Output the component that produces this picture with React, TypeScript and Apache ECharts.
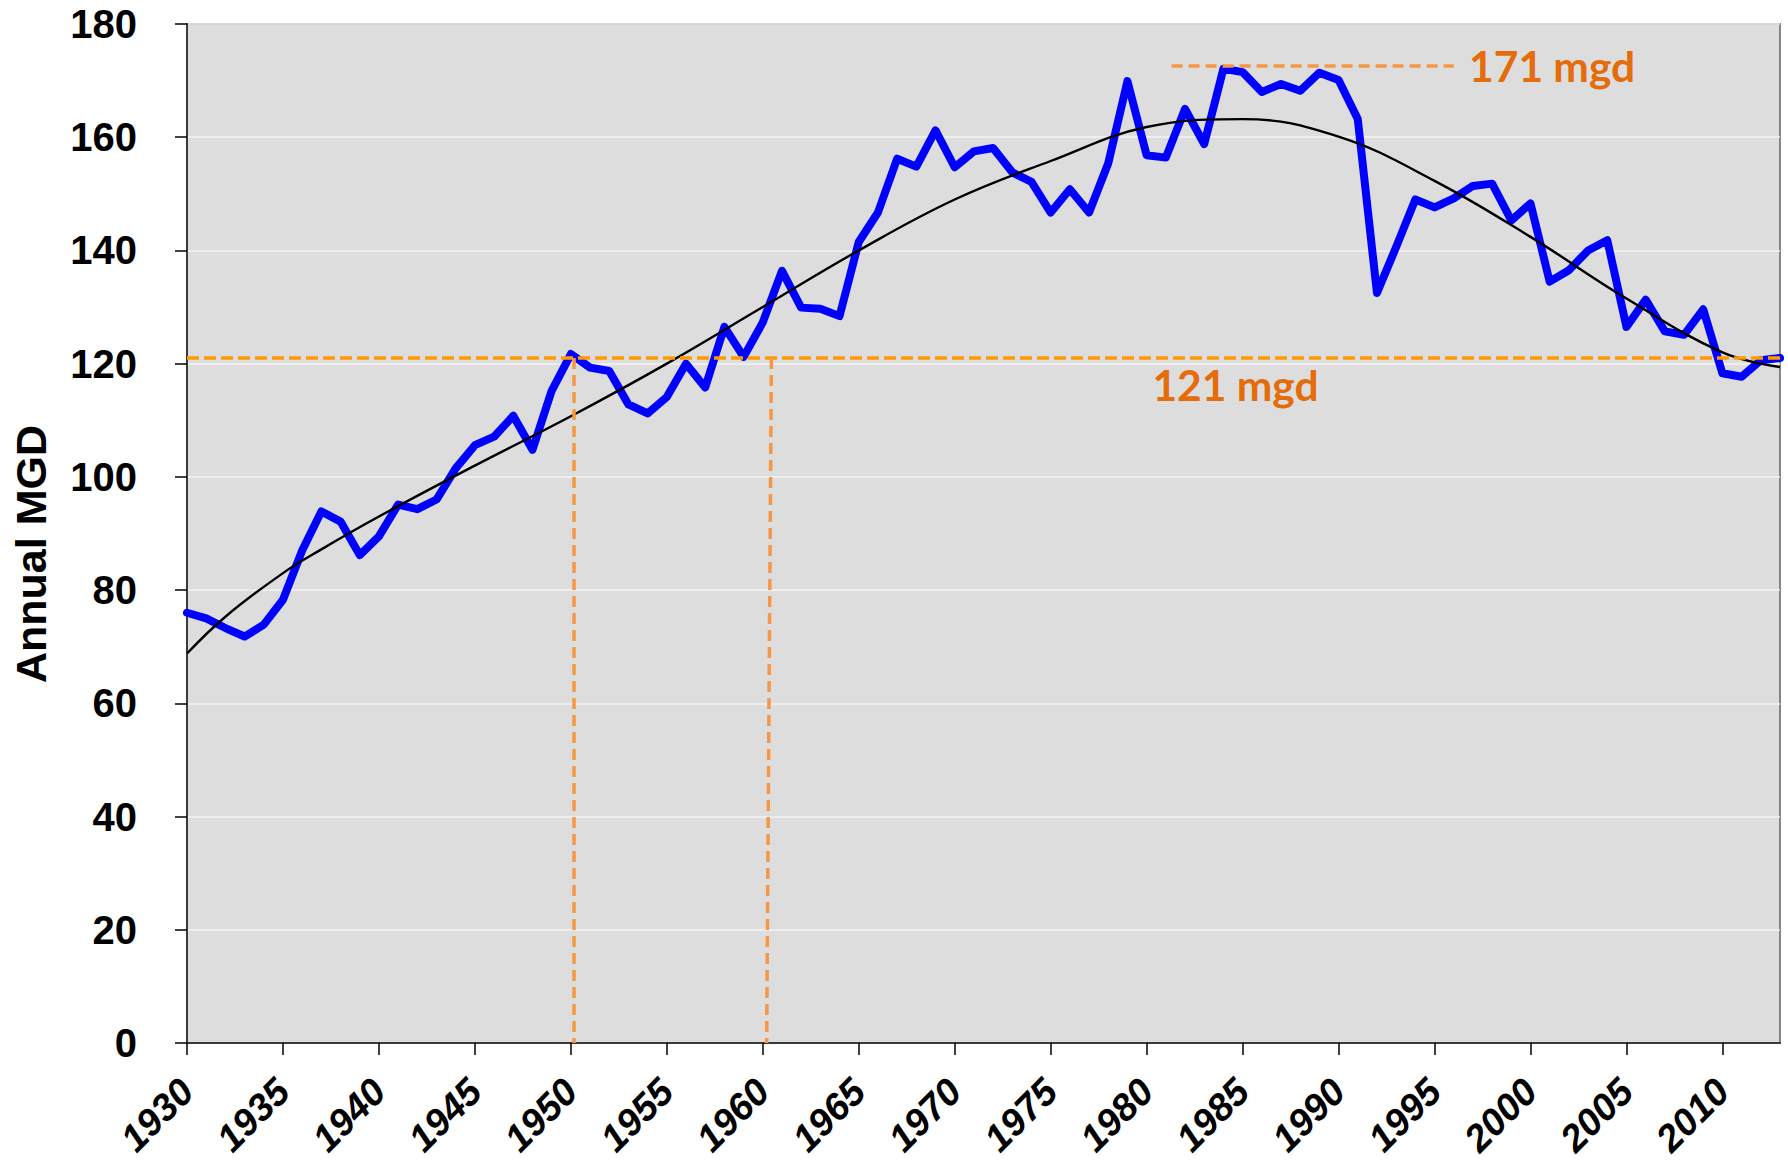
import React, { useEffect, useRef } from "react";
import * as echarts from "echarts";

// ---------- data ----------
const years = [
  1930, 1931, 1932, 1933, 1934, 1935, 1936, 1937, 1938, 1939,
  1940, 1941, 1942, 1943, 1944, 1945, 1946, 1947, 1948, 1949,
  1950, 1951, 1952, 1953, 1954, 1955, 1956, 1957, 1958, 1959,
  1960, 1961, 1962, 1963, 1964, 1965, 1966, 1967, 1968, 1969,
  1970, 1971, 1972, 1973, 1974, 1975, 1976, 1977, 1978, 1979,
  1980, 1981, 1982, 1983, 1984, 1985, 1986, 1987, 1988, 1989,
  1990, 1991, 1992, 1993, 1994, 1995, 1996, 1997, 1998, 1999,
  2000, 2001, 2002, 2003, 2004, 2005, 2006, 2007, 2008, 2009,
  2010, 2011, 2012, 2013,
];

const annualMgd = [
  76.0, 75.0, 73.3, 71.8, 73.9, 78.3, 87.0, 93.9, 92.1, 86.2,
  89.5, 95.1, 94.3, 96.0, 101.5, 105.6, 107.1, 110.8, 104.8, 115.2,
  121.7, 119.3, 118.7, 112.8, 111.2, 114.1, 120.0, 115.8, 126.5, 121.2,
  127.3, 136.4, 129.9, 129.7, 128.4, 141.5, 146.7, 156.2, 154.8, 161.2,
  154.7, 157.5, 158.1, 153.8, 152.1, 146.7, 150.8, 146.7, 155.4, 169.9,
  156.8, 156.4, 165.0, 158.8, 172.1, 171.5, 168.0, 169.4, 168.2, 171.4,
  170.1, 163.2, 132.5, 140.6, 149.0, 147.6, 149.2, 151.4, 151.8, 145.3,
  148.3, 134.5, 136.5, 140.0, 141.8, 126.5, 131.3, 125.7, 125.1, 129.6,
  118.3, 117.7, 120.6, 121.0,
];

// trendline
const trendYears = [
  1930, 1932, 1935, 1937, 1940, 1945, 1950, 1955, 1960, 1965,
  1970, 1975, 1980, 1985, 1990, 1995, 2000, 2005, 2010, 2013,
];
const trendValues = [
  68.8, 75.3, 83.0, 87.2, 93.0, 102.0, 110.7, 120.0, 130.0, 140.0,
  149.0, 155.8, 161.8, 163.2, 160.1, 152.3, 142.4, 131.5, 122.0, 119.4,
];

const tickYears = [1930, 1935, 1940, 1945, 1950, 1955, 1960, 1965, 1970, 1975, 1980, 1985, 1990, 1995, 2000, 2005, 2010];

const yAxisTitle = "Annual MGD";

// annotations
const level121 = 121;
const level121Span = [1930, 2013];
const level171Line = 172.7;
const level171Span = [1981.3, 1996.0];
const drop1950 = [1950.15, 1950.15];
const drop1960 = [1960.45, 1960.2];
const label171 = { text: "171 mgd", year: 1996.8, value: 172.7 };
const label121 = { text: "121 mgd", year: 1980.3, value: 116.3 };

const X_MIN = 1930;
const X_MAX = 2013;

export default function App() {
  const ref = useRef<HTMLDivElement>(null);

  useEffect(() => {
    if (!ref.current) return;
    const chart = echarts.init(ref.current, null, { renderer: "svg" });
    const axisFont = '"Liberation Sans", Arial, sans-serif';
    const annFont = 'Lato, "Open Sans", sans-serif';

    const option: any = {
      animation: false,
      backgroundColor: "#ffffff",
      grid: {
        left: 187,
        right: 8,
        top: 24,
        bottom: 120,
        outerBoundsMode: "none",
        containLabel: false,
        show: true,
        backgroundColor: "#DDDDDD",
        borderColor: "#858585",
        borderWidth: 2,
      },
      xAxis: {
        type: "value",
        min: X_MIN,
        max: X_MAX,
        interval: 5,
        axisLine: { show: true, onZero: false, lineStyle: { color: "#3a3a3a", width: 2 } },
        axisTick: {
          show: true,
          length: 12,
          customValues: tickYears,
          lineStyle: { color: "#000", width: 1.5 },
        },
        axisLabel: {
          customValues: tickYears,
          rotate: 45,
          margin: 42,
          align: "right",
          verticalAlign: "middle",
          fontSize: 38,
          lineHeight: 38,
          fontWeight: "bold",
          fontStyle: "italic",
          fontFamily: axisFont,
          color: "#000",
          formatter: (v: number) => String(v),
        },
        splitLine: { show: false },
      },
      yAxis: {
        type: "value",
        min: 0,
        max: 180,
        interval: 20,
        axisLine: { show: true, lineStyle: { color: "#3a3a3a", width: 2 } },
        axisTick: { show: true, length: 12, lineStyle: { color: "#000", width: 1.5 } },
        axisLabel: {
          margin: 50,
          fontSize: 40,
          fontWeight: "bold",
          fontFamily: axisFont,
          color: "#000",
        },
        splitLine: { show: true, lineStyle: { color: "#F3F3F3", width: 1.5 } },
      },
      series: [
        {
          type: "line",
          z: 1,
          data: [],
          silent: true,
          markLine: {
            silent: true,
            symbol: ["none", "none"],
            label: { show: false },
            data: [
              [
                { coord: [level121Span[0], level121], lineStyle: { color: "#FF9A00", width: 3.5, type: [12, 5] } },
                { coord: [level121Span[1], level121] },
              ],
              [
                { coord: [level171Span[0], level171Line], lineStyle: { color: "#F79646", width: 3.5, type: [11, 6] } },
                { coord: [level171Span[1], level171Line] },
              ],
              [
                { coord: [drop1950[0], level121], lineStyle: { color: "#F79646", width: 3.5, type: [11, 6] } },
                { coord: [drop1950[1], 0] },
              ],
              [
                { coord: [drop1960[0], level121], lineStyle: { color: "#F79646", width: 3.5, type: [11, 6] } },
                { coord: [drop1960[1], 0] },
              ],
            ],
          },
        },
        {
          name: "Annual MGD",
          type: "line",
          z: 2,
          showSymbol: false,
          data: years.map((y, i) => [y, annualMgd[i]]),
          lineStyle: { color: "#0000FF", width: 8, join: "round", cap: "round" },
        },
        {
          name: "Trend",
          type: "line",
          z: 3,
          showSymbol: false,
          smooth: 0.4,
          data: trendYears.map((y, i) => [y, trendValues[i]]),
          lineStyle: { color: "#000000", width: 2.4 },
        },
      ],
    };
    chart.setOption(option);

    const p171 = chart.convertToPixel({ gridIndex: 0 }, [label171.year, label171.value]) as number[];
    const p121 = chart.convertToPixel({ gridIndex: 0 }, [label121.year, label121.value]) as number[];
    const textStyle = (t: string) => ({
      text: t,
      fill: "#E46C0A",
      font: `bold 42.5px ${annFont}`,
      textAlign: "left",
      textVerticalAlign: "middle",
      align: "left",
      verticalAlign: "middle",
    });
    chart.setOption({
      graphic: [
        { type: "text", x: p171[0], y: p171[1], z: 10, style: textStyle(label171.text) },
        { type: "text", x: p121[0], y: p121[1], z: 10, style: textStyle(label121.text) },
        {
          type: "text",
          x: 31,
          y: 554,
          rotation: Math.PI / 2,
          z: 10,
          style: {
            text: yAxisTitle,
            fill: "#000",
            font: `bold 43px ${axisFont}`,
            textAlign: "center",
            textVerticalAlign: "middle",
            align: "center",
            verticalAlign: "middle",
          },
        },
      ],
    });

    return () => chart.dispose();
  }, []);

  return (
    <div
      ref={ref}
      style={{ position: "absolute", left: 0, top: 0, width: 1788, height: 1163 }}
    />
  );
}
